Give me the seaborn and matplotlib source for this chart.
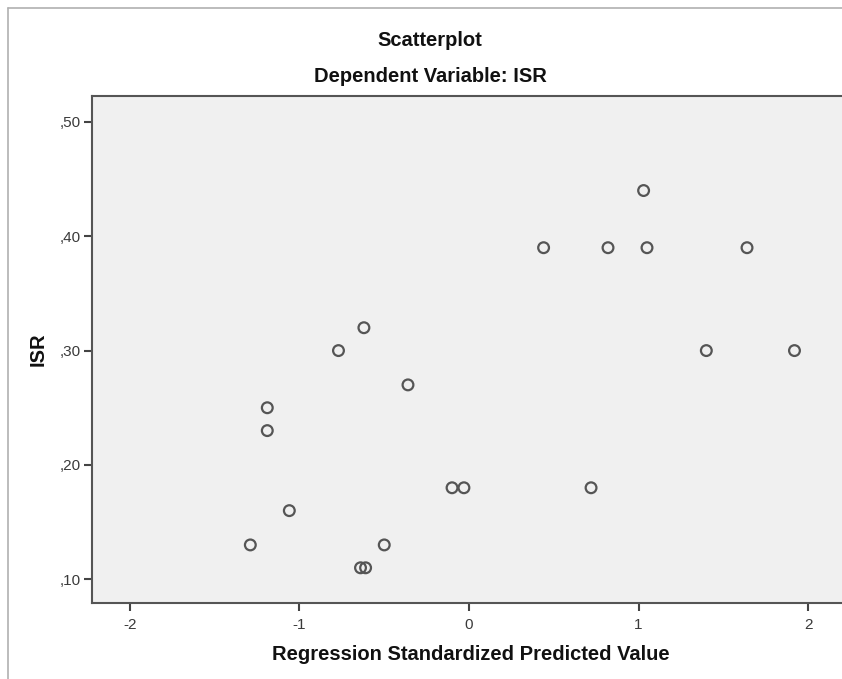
## Libraries ##
import matplotlib
matplotlib.use("Agg")
import matplotlib.pyplot as plt
from matplotlib.lines import Line2D
import numpy as np
import pandas as pd
import seaborn as sns

#=============
# Data
#=============
pred_value = [1.03, 0.44, 0.82, 1.05, 1.64,
              -0.62, -0.77, 1.40, 1.92, -0.36,
              -1.19, -1.19, -0.10, -0.03, 0.72,
              -1.06, -1.29, -0.50, -0.64, -0.61]
isr = [0.44, 0.39, 0.39, 0.39, 0.39,
       0.32, 0.30, 0.30, 0.30, 0.27,
       0.25, 0.23, 0.18, 0.18, 0.18,
       0.16, 0.13, 0.13, 0.11, 0.11]

x_ticks = [-2, -1, 0, 1, 2]
x_tick_labels = ["-2", "-1", "0", "1", "2"]
y_ticks = [0.10, 0.20, 0.30, 0.40, 0.50]
y_tick_labels = [",10", ",20", ",30", ",40", ",50"]

df = pd.DataFrame({"pred": pred_value, "isr": isr})

#=============
# Plot
#=============
sns.set_style("ticks")
plt.rcParams['font.family'] = ['Liberation Sans', 'DejaVu Sans']

fig = plt.figure(figsize=(8.42, 6.79), dpi=100)
ax = fig.add_axes([92/842, 1 - 603/679, 1 - 92/842 + 0.01, (603 - 96)/679])
ax.set_facecolor("#f0f0f0")

sns.scatterplot(data=df, x="pred", y="isr", ax=ax, marker="o", s=60,
                facecolor="none", edgecolor="#555555", linewidth=1.6)

ax.set_xlim(-2.224, 2.25)
ax.set_ylim(0.0792, 0.5227)
ax.set_xticks(x_ticks)
ax.set_xticklabels(x_tick_labels)
ax.set_yticks(y_ticks)
ax.set_yticklabels(y_tick_labels)

ax.tick_params(axis="both", direction="out", length=6, width=1.5,
               color="#444444", labelsize=11, labelcolor="#3a3a3a")
ax.tick_params(axis="x", pad=5)
ax.tick_params(axis="y", pad=2)
for s in ax.spines.values():
    s.set_color("#555555")
    s.set_linewidth(1.5)

ax.set_xlabel("Regression Standardized Predicted Value", fontsize=14.5,
              fontweight="bold", labelpad=9, color="#111111")
ax.set_ylabel("ISR", fontsize=14.5, fontweight="bold", labelpad=9, color="#111111")

fig.text(430/842, 1 - 40/679, "Scatterplot", ha="center", va="center",
         fontsize=14.5, fontweight="bold", color="#111111")
fig.text(430/842, 1 - 77/679, "Dependent Variable: ISR", ha="center", va="center",
         fontsize=14.5, fontweight="bold", color="#111111")

# light outer frame of the chart
fig.add_artist(Line2D([8/842, 1], [1 - 8/679, 1 - 8/679], color="#b0b0b0", lw=1.2))
fig.add_artist(Line2D([8/842, 8/842], [0, 1 - 8/679], color="#b0b0b0", lw=1.2))

plt.savefig("out.png", dpi=100)
